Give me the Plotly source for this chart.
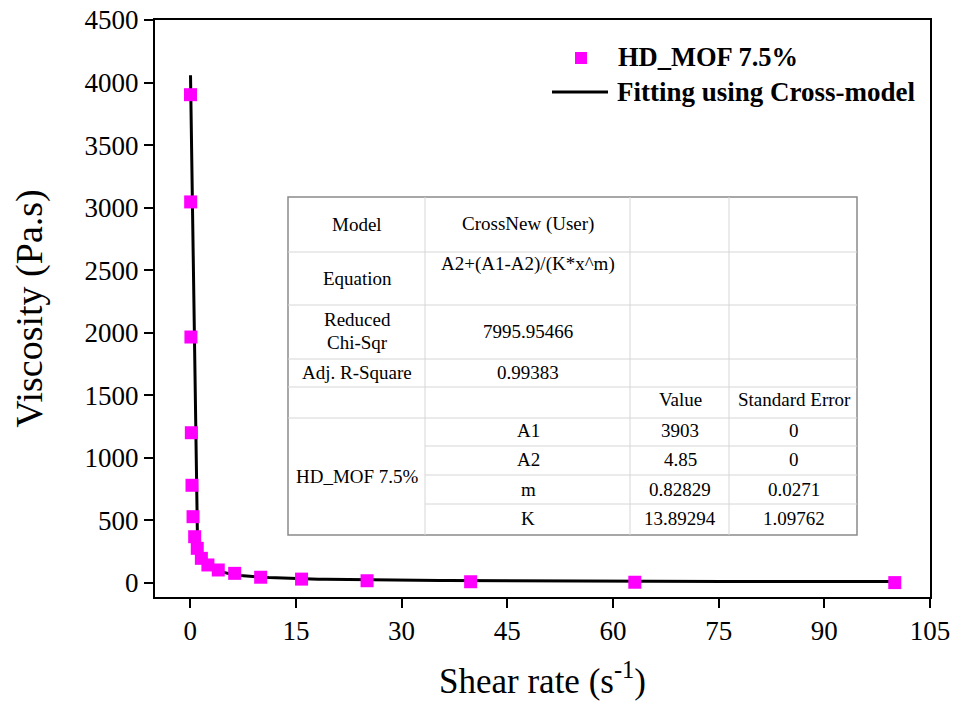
import numpy as np
import plotly.graph_objects as go

# Measured flow curve of HD_MOF 7.5%
shear_rate = [0.0398, 0.0631, 0.1, 0.158, 0.251, 0.398, 0.631, 1.0, 1.58, 2.51,
              3.98, 6.31, 10.0, 15.8, 25.1, 39.8, 63.1, 100.0]
viscosity = [3903, 3046, 1966, 1201, 781, 530, 370, 277, 197, 144,
             104, 77, 46, 31, 18, 10, 6, 3]

# Cross-model fit results: A2+(A1-A2)/(K*x^m)
A1, A2, m_exp, K = 3903, 4.85, 0.82829, 13.89294
A1_err, A2_err, m_err, K_err = 0, 0, 0.0271, 1.09762
reduced_chi_sqr = 7995.95466
adj_r_square = 0.99383

x_ticks = [0, 15, 30, 45, 60, 75, 90, 105]
y_ticks = [0, 500, 1000, 1500, 2000, 2500, 3000, 3500, 4000, 4500]

# fitted curve sampled over the measured range
fit_x = np.linspace(min(shear_rate), max(shear_rate), 100)
fit_y = A2 + (A1 - A2) / (K * fit_x ** m_exp)

W, H = 954, 701
L, R, T, B = 155, 24, 20, 104
PW, PH = W - L - R, H - T - B
SERIF = "Liberation Serif, Times New Roman, serif"


def px(xp):
    return (xp - L) / PW


def py(yp):
    return (H - B - yp) / PH


fig = go.Figure()
fig.add_trace(go.Scatter(
    x=fit_x, y=fit_y, mode="lines", name="Fitting using Cross-model",
    line=dict(color="black", width=3), showlegend=False))
fig.add_trace(go.Scatter(
    x=shear_rate, y=viscosity, mode="markers", name="HD_MOF 7.5%",
    marker=dict(symbol="square", size=13, color="#ff00ff", line=dict(width=0)),
    showlegend=False))

shapes = []
annotations = []

# legend
shapes.append(dict(type="rect", xref="paper", yref="paper",
                   x0=px(575), x1=px(587), y0=py(64), y1=py(52),
                   fillcolor="#ff00ff", line=dict(width=0)))
shapes.append(dict(type="line", xref="paper", yref="paper",
                   x0=px(552), x1=px(608), y0=py(92), y1=py(92),
                   line=dict(color="black", width=3)))
annotations.append(dict(xref="paper", yref="paper", x=px(616), y=py(57),
                        text="<b>HD_MOF 7.5%</b>", showarrow=False,
                        xanchor="left", yanchor="middle",
                        font=dict(family=SERIF, size=26.5, color="black")))
annotations.append(dict(xref="paper", yref="paper", x=px(615), y=py(92),
                        text="<b>Fitting using Cross-model</b>", showarrow=False,
                        xanchor="left", yanchor="middle",
                        font=dict(family=SERIF, size=27, color="black")))

# parameter table
tx0, tx1, ty0, ty1 = 288, 857, 197, 535
col_edges = [288, 425, 630, 729, 857]
shapes.append(dict(type="rect", xref="paper", yref="paper",
                   x0=px(tx0), x1=px(tx1), y0=py(ty1), y1=py(ty0),
                   fillcolor="white", line=dict(color="#8a8a8a", width=1.5),
                   layer="above"))
for cx in col_edges[1:-1]:
    shapes.append(dict(type="line", xref="paper", yref="paper",
                       x0=px(cx), x1=px(cx), y0=py(ty1), y1=py(ty0),
                       line=dict(color="#d6d6d6", width=1), layer="above"))
for ry in [252, 305, 359, 387, 418]:
    shapes.append(dict(type="line", xref="paper", yref="paper",
                       x0=px(tx0), x1=px(tx1), y0=py(ry), y1=py(ry),
                       line=dict(color="#d6d6d6", width=1), layer="above"))
for ry in [446, 475, 504]:
    shapes.append(dict(type="line", xref="paper", yref="paper",
                       x0=px(425), x1=px(tx1), y0=py(ry), y1=py(ry),
                       line=dict(color="#d6d6d6", width=1), layer="above"))

c1, c2, c3, c4 = 357, 528, 680, 794
table_cells = [
    ("Model", c1, 224), ("CrossNew (User)", c2, 224),
    ("Equation", c1, 278), ("A2+(A1-A2)/(K*x^m)", c2, 264),
    ("Reduced", c1, 319), ("Chi-Sqr", c1, 343), (f"{reduced_chi_sqr:.5f}", c2, 331),
    ("Adj. R-Square", c1, 373), (f"{adj_r_square:.5f}", c2, 373),
    ("Value", c3, 399), ("Standard Error", c4, 399),
    ("A1", c2, 430), (f"{A1}", c3, 430), (f"{A1_err}", c4, 430),
    ("A2", c2, 459), (f"{A2}", c3, 459), (f"{A2_err}", c4, 459),
    ("m", c2, 489), (f"{m_exp}", c3, 489), (f"{m_err}", c4, 489),
    ("K", c2, 518), (f"{K}", c3, 518), (f"{K_err}", c4, 518),
    ("HD_MOF 7.5%", c1, 476),
]
for text, cx, cy in table_cells:
    annotations.append(dict(xref="paper", yref="paper", x=px(cx), y=py(cy),
                            text=text, showarrow=False,
                            xanchor="center", yanchor="middle",
                            font=dict(family=SERIF, size=19, color="black")))

axis_common = dict(
    showline=True, linecolor="black", linewidth=2, mirror=True,
    ticks="outside", ticklen=9, tickwidth=2, tickcolor="black",
    showgrid=False, zeroline=False,
    tickfont=dict(family=SERIF, size=27, color="black"),
)

fig.update_layout(
    width=W, height=H,
    margin=dict(l=L, r=R, t=T, b=B, autoexpand=False),
    paper_bgcolor="white", plot_bgcolor="white",
    showlegend=False,
    xaxis=dict(range=[-5, 105], tickvals=x_ticks, automargin=False,
               title=dict(text="Shear rate (s<sup>-1</sup>)", standoff=24,
                          font=dict(family=SERIF, size=35, color="black")),
               **axis_common),
    yaxis=dict(range=[-112, 4500], tickvals=y_ticks, automargin=False,
               title=dict(text="Viscosity (Pa.s)", standoff=30,
                          font=dict(family=SERIF, size=38, color="black")),
               **axis_common),
    shapes=shapes,
    annotations=annotations,
)

fig.write_html("out.html")
